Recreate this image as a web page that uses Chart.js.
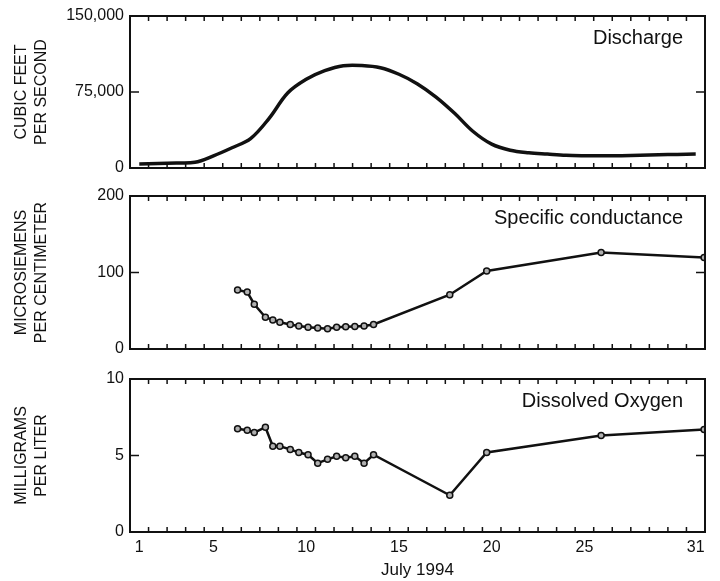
<!DOCTYPE html>
<html>
<head>
<meta charset="utf-8">
<title>July 1994</title>
<script src="https://cdn.jsdelivr.net/npm/chart.js@4"></script>
<style>
  html, body { margin: 0; padding: 0; background: #fff; }
  #wrap { position: relative; width: 720px; height: 581px; }
  .panel { position: absolute; left: 0; width: 720px; }
</style>
</head>
<body>
<div id="wrap">
  <div class="panel" style="top:0;height:185px"><canvas id="discharge"></canvas></div>
  <div class="panel" style="top:178px;height:190px"><canvas id="conductance"></canvas></div>
  <div class="panel" style="top:360px;height:221px"><canvas id="oxygen"></canvas></div>
</div>
<script>
// daily discharge, July 1994
const dischargeDays = [1, 2, 3, 4, 5, 6, 7, 8, 9, 10, 11, 12, 13, 14, 15, 16, 17, 18, 19, 20, 21, 22, 23, 24, 25, 26, 27, 28, 29, 30, 31];
const dischargeCfs = [4000, 4400, 4900, 5600, 12000, 20000, 29000, 49000, 74000, 87500, 96000, 101000, 101200, 99000, 92500, 83000, 70000, 54000, 36000, 23500, 17500, 15000, 13700, 12500, 12100, 12000, 12100, 12500, 13000, 13400, 13800];

// water-quality samples (day of month, fractional)
const sampleDays = [6.3, 6.82, 7.2, 7.8, 8.2, 8.58, 9.14, 9.6, 10.1, 10.62, 11.15, 11.64, 12.13, 12.62, 13.12, 13.63, 17.74, 19.73, 25.9, 31.45];
const conductance = [77, 74.5, 58.5, 41.5, 38, 35, 32, 30, 28.5, 27.5, 26.5, 28.5, 29, 29.5, 30, 32, 71, 102, 126, 119.5];
const dissolvedOxygen = [6.75, 6.65, 6.5, 6.85, 5.6, 5.6, 5.4, 5.2, 5.05, 4.5, 4.75, 4.95, 4.85, 4.95, 4.5, 5.05, 2.4, 5.2, 6.3, 6.7];

const dayLabels = [1, 5, 10, 15, 20, 25, 31];
const dayEdges = dischargeDays.slice(0, -1).map(d => d + 0.5);

const FONT = '"Liberation Sans", Arial, sans-serif';
const INK = '#111';

const framePlugin = {
  id: 'frame',
  afterDatasetsDraw(chart, args, opts) {
    const { ctx, chartArea: a, scales: { x, y } } = chart;
    ctx.save();
    ctx.strokeStyle = INK;
    ctx.lineWidth = 2;
    ctx.strokeRect(a.left, a.top, a.right - a.left, a.bottom - a.top);
    ctx.lineWidth = 1.5;
    ctx.beginPath();
    dayEdges.forEach(d => {
      const px = x.getPixelForValue(d);
      ctx.moveTo(px, a.bottom); ctx.lineTo(px, a.bottom - 5);
      ctx.moveTo(px, a.top); ctx.lineTo(px, a.top + 5);
    });
    const py = y.getPixelForValue(opts.mid);
    ctx.moveTo(a.left, py); ctx.lineTo(a.left + 9, py);
    ctx.moveTo(a.right, py); ctx.lineTo(a.right - 9, py);
    ctx.stroke();
    ctx.fillStyle = INK;
    ctx.font = '20px ' + FONT;
    ctx.textAlign = 'right';
    ctx.textBaseline = 'middle';
    ctx.fillText(opts.label, a.right - 22, a.top + 22);
    ctx.restore();
  }
};

function makePanel(id, o) {
  const xAxis = {
    type: 'linear', min: 0.5, max: 31.5,
    display: o.showX,
    grid: { display: false, drawTicks: false },
    border: { display: false },
    afterBuildTicks: s => { s.ticks = dayLabels.map(v => ({ value: v })); },
    ticks: { color: INK, font: { family: FONT, size: 16 }, padding: 6, autoSkip: false, maxRotation: 0 },
    title: { display: true, text: 'July 1994', color: INK, font: { family: FONT, size: 17 }, padding: { top: 2, bottom: 0 } }
  };
  if (o.showX) xAxis.afterFit = s => { s.height = 49; };

  new Chart(document.getElementById(id), {
    type: 'line',
    data: { datasets: [{
      data: o.days.map((d, i) => ({ x: d, y: o.values[i] })),
      borderColor: INK,
      borderWidth: o.lineWidth,
      tension: o.tension,
      pointRadius: o.points ? 3 : 0,
      pointBorderWidth: 1.5,
      pointBorderColor: INK,
      pointBackgroundColor: '#b0b0b0',
      fill: false
    }] },
    options: {
      responsive: true,
      maintainAspectRatio: false,
      animation: false,
      layout: { padding: { left: 0, right: 15, top: o.padTop, bottom: o.padBottom } },
      plugins: { legend: { display: false }, tooltip: { enabled: false }, frame: { mid: o.max / 2, label: o.label } },
      scales: {
        x: xAxis,
        y: {
          min: 0, max: o.max,
          grid: { display: false, drawTicks: false },
          border: { display: false },
          afterFit: s => { s.width = 130; },
          afterBuildTicks: s => { s.ticks = [0, o.max / 2, o.max].map(v => ({ value: v })); },
          ticks: { color: INK, font: { family: FONT, size: 16 }, padding: 6,
                   callback: v => v.toLocaleString('en-US') },
          title: { display: true, text: o.title, color: INK, font: { family: FONT, size: 16, lineHeight: 1.25 },
                   padding: { top: 12, bottom: 0 } }
        }
      }
    },
    plugins: [framePlugin]
  });
}

makePanel('discharge', {
  days: dischargeDays, values: dischargeCfs, max: 150000, label: 'Discharge',
  title: ['CUBIC FEET', 'PER SECOND'], lineWidth: 3.5, tension: 0.35, points: false,
  showX: false, padTop: 16, padBottom: 17
});
makePanel('conductance', {
  days: sampleDays, values: conductance, max: 200, label: 'Specific conductance',
  title: ['MICROSIEMENS', 'PER CENTIMETER'], lineWidth: 2.5, tension: 0, points: true,
  showX: false, padTop: 18, padBottom: 19
});
makePanel('oxygen', {
  days: sampleDays, values: dissolvedOxygen, max: 10, label: 'Dissolved Oxygen',
  title: ['MILLIGRAMS', 'PER LITER'], lineWidth: 2.5, tension: 0, points: true,
  showX: true, padTop: 19, padBottom: 0
});
</script>
</body>
</html>
